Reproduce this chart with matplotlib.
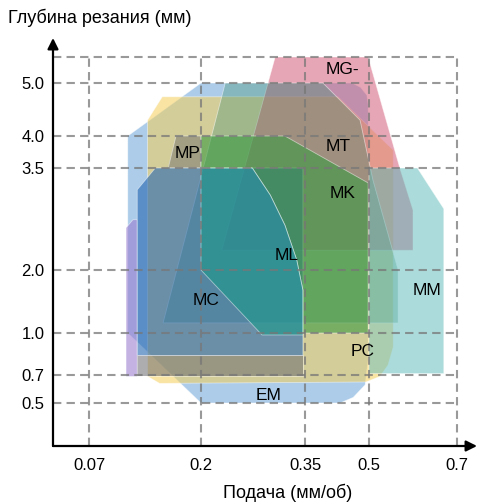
import numpy as np
import matplotlib
matplotlib.use('Agg')
import matplotlib.pyplot as plt

plt.rcParams['font.family'] = ['Liberation Sans', 'DejaVu Sans']

# axis ticks (uneven spacing on both axes)
feed_ticks = [0.07, 0.2, 0.35, 0.5, 0.7]
feed_labels = ['0.07', '0.2', '0.35', '0.5', '0.7']
depth_ticks = [0.5, 0.7, 1.0, 2.0, 3.5, 4.0, 5.0]
depth_labels = ['0.5', '0.7', '1.0', '2.0', '3.5', '4.0', '5.0']
depth_top = 6.0

# chipbreaker zones: outline in feed (mm/rev) and depth of cut (mm)
em_feed = [0.115, 0.2, 0.46, 0.48, 0.495, 0.498, 0.498, 0.491, 0.463, 0.432, 0.2, 0.115]
em_depth = [4.0, 5.0, 5.0, 4.92, 4.77, 4.58, 0.81, 0.63, 0.54, 0.5, 0.5, 1.0]

pc_feed = [0.138, 0.155, 0.427, 0.555, 0.555, 0.543, 0.525, 0.493, 0.152, 0.138]
pc_depth = [4.3, 4.74, 4.74, 3.78, 0.9, 0.77, 0.69, 0.65, 0.64, 0.69]

mg_feed = [0.307, 0.498, 0.57, 0.6, 0.6, 0.23]
mg_depth = [6.0, 6.0, 3.5, 2.88, 2.29, 2.29]

lav_feed = [0.113, 0.121, 0.126, 0.126, 0.113]
lav_depth = [2.62, 2.74, 2.74, 0.69, 0.69]

mp_top_feed = [0.171, 0.2, 0.2, 0.162]
mp_top_depth = [4.0, 4.0, 3.5, 3.5]
mp_band_feed = [0.126, 0.347, 0.347, 0.126]
mp_band_depth = [0.84, 0.84, 0.69, 0.69]

mt_feed = [0.235, 0.392, 0.479, 0.509, 0.566, 0.566, 0.156]
mt_depth = [5.0, 5.0, 4.3, 3.32, 2.0, 1.16, 1.16]

mc_feed = [0.126, 0.147, 0.347, 0.347, 0.126]
mc_depth = [3.18, 3.5, 3.5, 0.84, 0.84]

mk_feed = [0.2, 0.321, 0.498, 0.498, 0.347, 0.347, 0.338, 0.321, 0.3, 0.274, 0.2]
mk_depth = [4.0, 4.0, 3.28, 1.0, 1.0, 1.68, 2.15, 2.66, 3.1, 3.5, 3.5]

ml_feed = [0.2, 0.274, 0.3, 0.321, 0.338, 0.347, 0.347, 0.288, 0.2]
ml_depth = [3.5, 3.5, 3.1, 2.66, 2.15, 1.68, 0.986, 0.986, 2.0]

mm_feed = [0.5, 0.61, 0.67, 0.67, 0.5]
mm_depth = [3.5, 3.5, 2.9, 0.71, 0.71]

# (feed, depth, colour, alpha) in drawing order
zones = [
    (em_feed, em_depth, '#5b9bd5', 0.5),
    (pc_feed, pc_depth, '#f5cf5a', 0.55),
    (mg_feed, mg_depth, '#d45d7a', 0.55),
    (lav_feed, lav_depth, '#9b7fd0', 0.6),
    (mp_top_feed, mp_top_depth, '#707070', 0.5),
    (mp_band_feed, mp_band_depth, '#6a6a70', 0.55),
    (mt_feed, mt_depth, '#3f8f6f', 0.35),
    (mc_feed, mc_depth, '#2466b0', 0.6),
    (mk_feed, mk_depth, '#3a9a40', 0.6),
    (ml_feed, ml_depth, '#1a9a8a', 0.6),
    (mm_feed, mm_depth, '#5ab8b8', 0.5),
]

label_names = ['MG-', 'MP', 'MT', 'MK', 'ML', 'MC', 'MM', 'PC', 'EM']
label_feed = [0.438, 0.184, 0.427, 0.437, 0.324, 0.207, 0.632, 0.484, 0.297]
label_depth = [5.5, 3.73, 3.83, 3.13, 2.22, 1.52, 1.67, 0.87, 0.55]

# piecewise scale so the uneven ticks land where they are in the chart
x_vals = [0, 0.07, 0.2, 0.35, 0.5, 0.7, 0.8]
x_pos = [0, 36, 148, 252, 316, 404, 424]
y_vals = [0, 0.5, 0.7, 1.0, 2.0, 3.5, 4.0, 5.0, 6.0, 7.0]
y_pos = [0, 43, 71, 113, 176, 278, 310, 363, 389, 408]


def fx(v):
    return np.interp(v, x_vals, x_pos)


def fx_inv(p):
    return np.interp(p, x_pos, x_vals)


def fy(v):
    return np.interp(v, y_vals, y_pos)


def fy_inv(p):
    return np.interp(p, y_pos, y_vals)


fig = plt.figure(figsize=(4.78, 5.04), dpi=100)
ax = fig.add_axes([53 / 478, 58 / 504, 424 / 478, 408 / 504])
ax.set_xscale('function', functions=(fx, fx_inv))
ax.set_yscale('function', functions=(fy, fy_inv))
ax.set_xlim(0, 0.8)
ax.set_ylim(0, 7.0)

for fd, dp, col, a in zones:
    ax.fill(fd, dp, facecolor=col, alpha=a, edgecolor='none', zorder=2)
    ax.fill(fd, dp, facecolor='none', edgecolor='white', lw=0.6, alpha=0.5, zorder=2)

# dashed grid, drawn on top
grid_kw = dict(colors='#777777', linestyles=(0, (4, 2.5)), lw=1.5, alpha=0.75, zorder=3)
ax.vlines(feed_ticks, 0, depth_top, **grid_kw)
ax.hlines(depth_ticks + [depth_top], 0, feed_ticks[-1], **grid_kw)

for name, fd, dp in zip(label_names, label_feed, label_depth):
    ax.text(fd, dp, name, ha='center', va='center', fontsize=12.5, zorder=4)

ax.set_xticks(feed_ticks)
ax.set_xticklabels(feed_labels, fontsize=12)
ax.set_yticks(depth_ticks)
ax.set_yticklabels(depth_labels, fontsize=12)
ax.xaxis.set_minor_locator(matplotlib.ticker.NullLocator())
ax.yaxis.set_minor_locator(matplotlib.ticker.NullLocator())
ax.tick_params(length=0)
ax.tick_params(axis='x', pad=9)
ax.tick_params(axis='y', pad=6)
for s in ax.spines.values():
    s.set_visible(False)

# axes with arrow heads
arrow = dict(arrowstyle='-|>', color='black', lw=1.6, mutation_scale=16, shrinkA=0, shrinkB=0)
ax.annotate('', xy=(1, 0), xytext=(0, 0), xycoords='axes fraction', arrowprops=arrow)
ax.annotate('', xy=(0, 1), xytext=(0, 0), xycoords='axes fraction', arrowprops=arrow)

fig.text(8 / 478, 1 - 18 / 504, 'Глубина резания (мм)', ha='left', va='center', fontsize=13)
fig.text(288 / 478, 1 - 493 / 504, 'Подача (мм/об)', ha='center', va='center', fontsize=13)

fig.savefig('out.png', dpi=100)
